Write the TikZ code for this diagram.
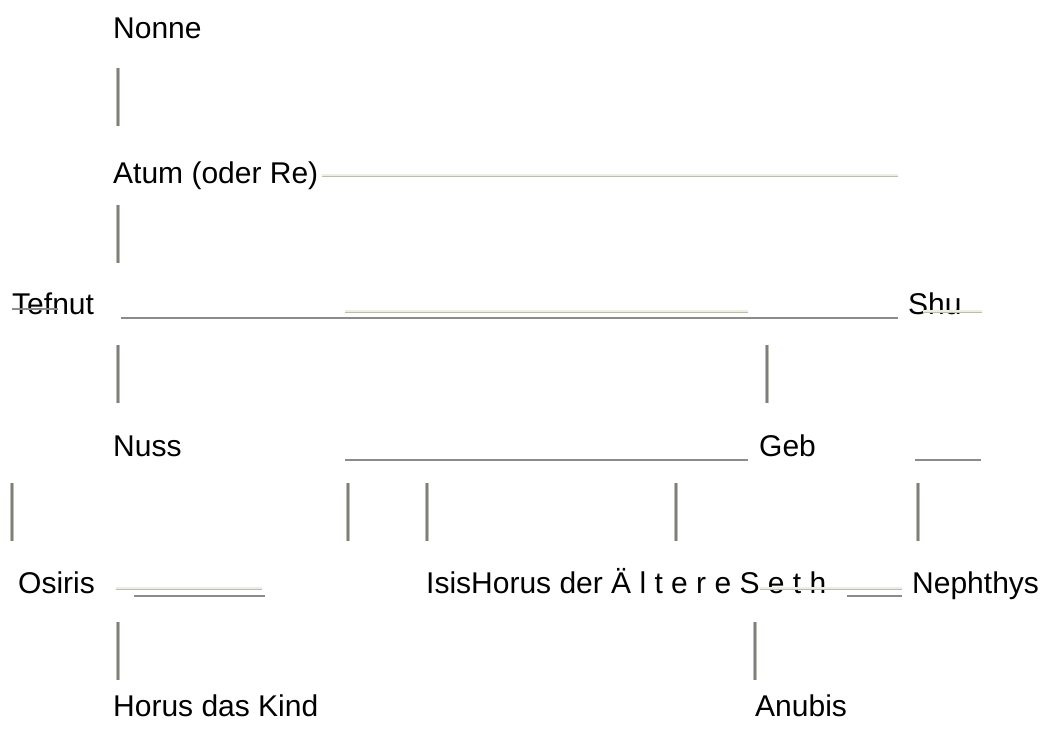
\documentclass[tikz,border=0pt]{standalone}
\usepackage{fontspec}
\setmainfont{Liberation Sans}
\definecolor{bargray}{HTML}{7E7E7E}
\definecolor{baredge}{HTML}{BDBDB0}
\definecolor{faint}{HTML}{BCBCB0}
\definecolor{faintfill}{HTML}{EDEDE2}
\tikzset{
  god/.style={anchor=base west,inner sep=0pt,font=\fontsize{30}{35}\selectfont},
  bar/.style={draw=baredge,double=bargray,line width=0.8pt,double distance=2.6pt},
  rule/.style={draw=bargray!90!white,line width=2.4pt},
  faintrule/.style={draw=faint,double=faintfill,line width=0.7pt,double distance=1.6pt},
}
\begin{document}
\begin{tikzpicture}[x=1pt,y=-1pt]
        \useasboundingbox (0,0) rectangle (1043,731);

        \node[god] (nonne) at (113,38) {Nonne};
        \node[god] (atum) at (113,183) {Atum (oder Re)};
        \node[god] (tefnut) at (12,314) {Tefnut};
        \node[god] (shu) at (908,314) {Shu};
        \node[god] (nuss) at (113,456) {Nuss};
        \node[god] (geb) at (759,456) {Geb};
        \node[god] (osiris) at (18,593) {Osiris};
        \node[god] (isis) at (426,593) {IsisHorus der Ä l t e r e S e t h};
        \node[god] (nephthys) at (912,593) {Nephthys};
        \node[god] (horus) at (113,716) {Horus das Kind};
        \node[god] (anubis) at (755,716) {Anubis};

        % ends of the horizontal rules
        \coordinate (atumA) at (322,175);
        \coordinate (atumB) at (898,175);
        \coordinate (tefA) at (12,309);
        \coordinate (tefB) at (58,309);
        \coordinate (pairA) at (121,318);
        \coordinate (pairB) at (898,318);
        \coordinate (midA) at (345,311);
        \coordinate (midB) at (748,311);
        \coordinate (shuA) at (923,311);
        \coordinate (shuB) at (982,311);
        \coordinate (gebA) at (345,460);
        \coordinate (gebB) at (748,460);
        \coordinate (gebC) at (915,460);
        \coordinate (gebD) at (981,460);
        \coordinate (osA) at (116,588);
        \coordinate (osB) at (262,588);
        \coordinate (osC) at (134,596);
        \coordinate (osD) at (265,596);
        \coordinate (seA) at (760,588);
        \coordinate (seB) at (902,588);
        \coordinate (seC) at (847,596);
        \coordinate (seD) at (902,596);

        % ends of the vertical bars
        \coordinate (v1a) at (118,68);   \coordinate (v1b) at (118,126);
        \coordinate (v2a) at (118,205);  \coordinate (v2b) at (118,263);
        \coordinate (v3a) at (118,345);  \coordinate (v3b) at (118,403);
        \coordinate (v4a) at (767,345);  \coordinate (v4b) at (767,403);
        \coordinate (v5a) at (12,483);   \coordinate (v5b) at (12,541);
        \coordinate (v6a) at (348,483);  \coordinate (v6b) at (348,541);
        \coordinate (v7a) at (427,483);  \coordinate (v7b) at (427,541);
        \coordinate (v8a) at (676,483);  \coordinate (v8b) at (676,541);
        \coordinate (v9a) at (918,483);  \coordinate (v9b) at (918,541);
        \coordinate (v10a) at (118,622); \coordinate (v10b) at (118,680);
        \coordinate (v11a) at (755,622); \coordinate (v11b) at (755,680);

        \draw[faintrule] (atumA) -- (atumB);
        \draw[rule,line width=2pt] (tefA) -- (tefB);
        \draw[rule] (pairA) -- (pairB);
        \draw[faintrule] (midA) -- (midB);
        \draw[faintrule] (shuA) -- (shuB);
        \draw[rule] (gebA) -- (gebB);
        \draw[rule] (gebC) -- (gebD);
        \draw[faintrule] (osA) -- (osB);
        \draw[rule] (osC) -- (osD);
        \draw[faintrule] (seA) -- (seB);
        \draw[rule] (seC) -- (seD);

        \draw[bar] (v1a) -- (v1b);
        \draw[bar] (v2a) -- (v2b);
        \draw[bar] (v3a) -- (v3b);
        \draw[bar] (v4a) -- (v4b);
        \draw[bar] (v5a) -- (v5b);
        \draw[bar] (v6a) -- (v6b);
        \draw[bar] (v7a) -- (v7b);
        \draw[bar] (v8a) -- (v8b);
        \draw[bar] (v9a) -- (v9b);
        \draw[bar] (v10a) -- (v10b);
        \draw[bar] (v11a) -- (v11b);

    \end{tikzpicture}
\end{document}
